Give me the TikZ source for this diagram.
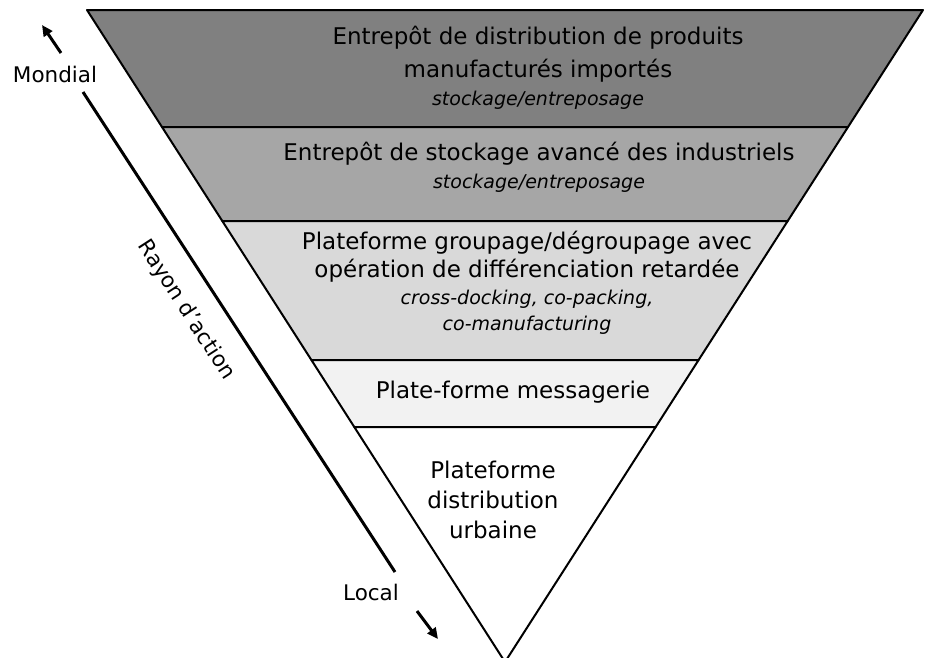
\documentclass[tikz,border=0pt]{standalone}
\usepackage{fontspec}
\setmainfont{DejaVu Sans}
\usetikzlibrary{arrows.meta}
\definecolor{bandA}{HTML}{808080}
\definecolor{bandB}{HTML}{A6A6A6}
\definecolor{bandC}{HTML}{D9D9D9}
\definecolor{bandD}{HTML}{F2F2F2}
\newcommand{\sousfont}{\fontsize{19}{28}\selectfont\itshape}
\tikzset{
        band/.style={draw=black, line width=2pt, line join=round},
        bandtext/.style={align=center, inner sep=0pt, font=\fontsize{23}{28}\selectfont},
        sidetext/.style={inner sep=0pt, font=\fontsize{21.5}{24}\selectfont},
        axis/.style={line width=3pt},
        axisarrow/.style={line width=3pt, -{Triangle[length=11pt,width=10pt]}}
          }
\begin{document}
\begin{tikzpicture}[x=1pt,y=-1pt]
        \useasboundingbox (0,0) rectangle (926,657);
        % bands of the funnel
        \filldraw[band, fill=bandA] (87,10) -- (923,10) -- (848,127) -- (162,127) -- cycle;
        \filldraw[band, fill=bandB] (162,127) -- (848,127) -- (787.7,221) -- (222.3,221) -- cycle;
        \filldraw[band, fill=bandC] (222.3,221) -- (787.7,221) -- (698.6,360) -- (311.4,360) -- cycle;
        \filldraw[band, fill=bandD] (311.4,360) -- (698.6,360) -- (655.7,427) -- (354.3,427) -- cycle;
        \filldraw[band, fill=white] (354.3,427) -- (655.7,427) -- (505,662) -- cycle;
        % texts
        \node[bandtext] (import) at (538,68) {Entrepôt de distribution de produits\\[5pt]
          manufacturés importés\\ {\sousfont stockage/entreposage}};
        \node[bandtext] (avance) at (539,167) {Entrepôt de stockage avancé des industriels\\
          {\sousfont stockage/entreposage}};
        \node[bandtext] (groupage) at (527,283) {Plateforme groupage/dégroupage avec\\
          opération de différenciation retardée\\[-1pt]
          {\sousfont cross-docking, co-packing,}\\[-2pt] {\sousfont co-manufacturing}};
        \node[bandtext] (messagerie) at (513,392) {Plate-forme messagerie};
        \node[bandtext] (urbaine) at (493,500) {Plateforme\\[2pt] distribution\\[2pt] urbaine};
        % axis on the left
        \node[sidetext] (mondial) at (55,74) {Mondial};
        \node[sidetext] (local) at (371,592) {Local};
        \node[sidetext, rotate=-57] (rayon) at (186,310) {Rayon d'action};
        \coordinate (haut) at (42,25);
        \coordinate (hautqueue) at (61,53);
        \coordinate (debut) at (83,92);
        \coordinate (fin) at (395,572);
        \coordinate (basqueue) at (417,611);
        \coordinate (bas) at (438,639);
        \draw[axisarrow] (hautqueue) -- (haut);
        \draw[axis] (debut) -- (fin);
        \draw[axisarrow] (basqueue) -- (bas);
\end{tikzpicture}
\end{document}
